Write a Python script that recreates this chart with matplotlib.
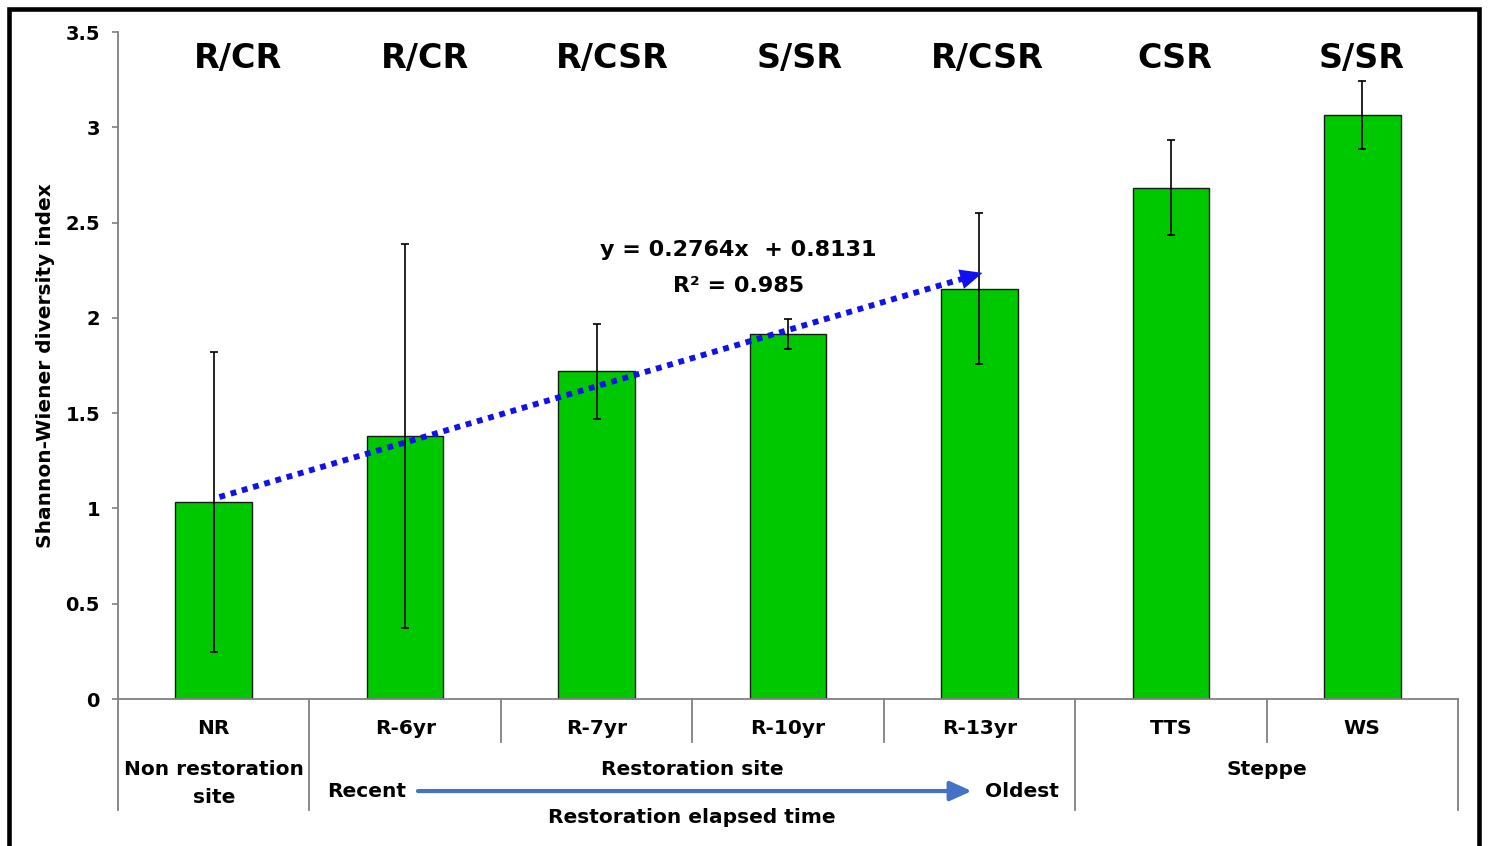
import matplotlib
matplotlib.use("Agg")
import matplotlib.pyplot as plt
from matplotlib.patches import Rectangle

plt.rcParams["font.family"] = ["DejaVu Sans"]
plt.rcParams["font.weight"] = "bold"

# data
sites = ["NR", "R-6yr", "R-7yr", "R-10yr", "R-13yr", "TTS", "WS"]
strategy = ["R/CR", "R/CR", "R/CSR", "S/SR", "R/CSR", "CSR", "S/SR"]
shannon = [1.035, 1.38, 1.72, 1.915, 2.153, 2.683, 3.064]
shannon_err = [0.787, 1.01, 0.25, 0.08, 0.395, 0.25, 0.18]
yticks = [0, 0.5, 1, 1.5, 2, 2.5, 3, 3.5]

# trend arrow over the restoration chronosequence (NR -> R-13yr)
trend_from, trend_to = 1.06, 2.24
eq_text = "y = 0.2764x  + 0.8131"
r2 = 0.985

GREEN = "#00C800"
GREY = "#808080"
DOTBLUE = "#1010F0"
ARROWBLUE = "#4472C4"

fig = plt.figure(figsize=(14.88, 8.46), dpi=100)
ax = fig.add_axes([118 / 1488, 147 / 846, 1340 / 1488, 667 / 846])

x = list(range(len(sites)))
ax.bar(x, shannon, width=0.40, color=GREEN, edgecolor="#1a1a1a", linewidth=1.0,
       yerr=shannon_err,
       error_kw=dict(ecolor="black", elinewidth=1.2, capsize=3, capthick=1.2),
       zorder=2)

ax.set_xlim(-0.5, len(sites) - 0.5)
ax.set_ylim(0, 3.5)
ax.set_yticks(yticks)
ax.set_yticklabels(["%g" % t for t in yticks])
ax.tick_params(axis="y", length=4, width=1.2, color=GREY, pad=9, labelsize=14)
ax.set_xticks([])
for s in ["top", "right"]:
    ax.spines[s].set_visible(False)
for s in ["left", "bottom"]:
    ax.spines[s].set_color(GREY)
    ax.spines[s].set_linewidth(1.3)

ax.set_ylabel("Shannon-Wiener diversity index", fontsize=14.5, fontweight="bold")
ax.yaxis.set_label_coords(-0.047, 0.5)

# strategy labels above the bars (evenly spaced text boxes)
for i, lab in enumerate(strategy):
    ax.text(0.127 + 0.9786 * i, 0.961, lab, transform=ax.get_xaxis_transform(),
            ha="center", va="center", fontsize=24, fontweight="bold")

# dotted trend arrow
x_start, x_end = 0.03, 4.03
ax.plot([x_start, x_end - 0.08], [trend_from, trend_to - 0.08 * (trend_to - trend_from) / 4],
        color=DOTBLUE, lw=4.2, linestyle=(0, (1, 1)), dash_capstyle="butt", zorder=3)
k = (trend_to - trend_from) / (x_end - x_start)
ax.annotate("", xy=(x_end, trend_to), xytext=(x_end - 0.14, trend_to - 0.14 * k),
            arrowprops=dict(arrowstyle="-|>,head_length=1.0,head_width=0.45",
                            color=DOTBLUE, lw=0, mutation_scale=16), zorder=4)
ax.text(2.74, 2.356, eq_text, ha="center", va="center",
        fontsize=16, fontweight="bold")
ax.text(2.74, 2.167, "R² = %.3f" % r2, ha="center", va="center",
        fontsize=16, fontweight="bold")

# multi-level category axis
trans = ax.get_xaxis_transform()
for b in [1.5, 2.5, 3.5, 5.5]:
    ax.plot([b, b], [0, -0.0645], transform=trans, clip_on=False, color=GREY, lw=1.3)
for b in [-0.5, 0.5, 4.5, 6.5]:
    ax.plot([b, b], [0, -0.166], transform=trans, clip_on=False, color=GREY, lw=1.3)

for xi, lab in zip(x, sites):
    ax.text(xi, -0.0435, lab, transform=trans, ha="center", va="center",
            fontsize=14.5, fontweight="bold")

ax.text(0, -0.1064, "Non restoration", transform=trans, ha="center", va="center",
        fontsize=14.5, fontweight="bold")
ax.text(0, -0.147, "site", transform=trans, ha="center", va="center",
        fontsize=14.5, fontweight="bold")
ax.text(2.5, -0.1064, "Restoration site", transform=trans, ha="center", va="center",
        fontsize=14.5, fontweight="bold")
ax.text(5.5, -0.1064, "Steppe", transform=trans, ha="center", va="center",
        fontsize=14.5, fontweight="bold")
ax.text(0.80, -0.138, "Recent", transform=trans, ha="center", va="center",
        fontsize=14.5, fontweight="bold")
ax.text(4.22, -0.138, "Oldest", transform=trans, ha="center", va="center",
        fontsize=14.5, fontweight="bold")
ax.text(2.5, -0.178, "Restoration elapsed time", transform=trans, ha="center",
        va="center", fontsize=14.5, fontweight="bold")
ax.annotate("", xy=(3.96, -0.138), xytext=(1.067, -0.138), xycoords=trans,
            textcoords=trans, annotation_clip=False,
            arrowprops=dict(arrowstyle="-|>,head_length=1.0,head_width=0.45",
                            color=ARROWBLUE, lw=3, mutation_scale=13,
                            shrinkA=0, shrinkB=0))

# outer frame
fig.add_artist(Rectangle((9 / 1488, -0.02), 1470 / 1488, 1.0094, transform=fig.transFigure,
                         fill=False, ec="black", lw=3.3))

fig.savefig("out.png", dpi=100)
